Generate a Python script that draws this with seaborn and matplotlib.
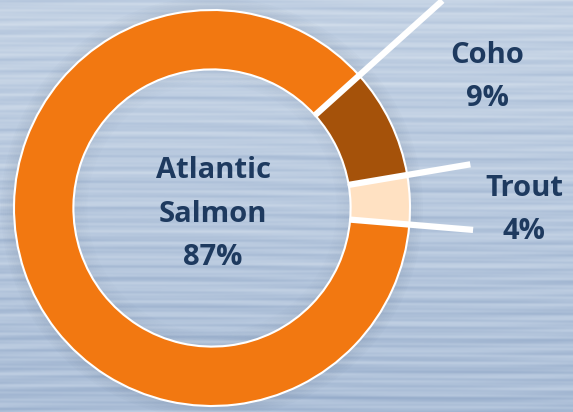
import numpy as np
import matplotlib
matplotlib.use("Agg")
import matplotlib.pyplot as plt
import seaborn as sns
from matplotlib.colors import LinearSegmentedColormap
from matplotlib.patches import Wedge

# ---- data ----
categories = ["Coho", "Trout", "Atlantic\nSalmon"]
shares = [9, 4, 87]
labels = ["Coho\n9%", "Trout\n4%", "Atlantic\nSalmon\n87%"]
colors = ["#A5520A", "#FFE1C2", "#F27811"]

sns.set_theme(style="white")
plt.rcParams['font.family'] = ['Open Sans', 'DejaVu Sans']

W, H = 573, 412
fig = plt.figure(figsize=(W / 100, H / 100), dpi=100)
ax = fig.add_axes([0, 0, 1, 1])

# ---- background water texture (deterministic streaks) ----
yy, xx = np.mgrid[0:H, 0:W].astype(float)
v = (0.40 * np.sin(yy * 0.45 + 2.0 * np.sin(xx * 0.011))
     + 0.30 * np.sin(yy * 0.97 + 1.5 * np.sin(xx * 0.007 + 1.0))
     + 0.25 * np.sin(yy * 0.63 + 3.0 * np.sin(xx * 0.005 + 0.4))
     + 0.15 * np.sin(yy * 1.71 + 1.2 * np.sin(xx * 0.013 + 2.5))
     + 0.20 * np.sin(yy * 0.21 + 0.8 * np.sin(xx * 0.004 + 2.0)))
v = (v - v.min()) / (v.max() - v.min())
v = 0.6 * v + 0.4 * (yy / H)  # darker toward bottom
bg_cmap = LinearSegmentedColormap.from_list("water", ["#d0dcea", "#b7c8de", "#97adcb"])
ax.imshow(v, cmap=bg_cmap, extent=[0, W, 0, H], origin='upper', zorder=0, aspect='auto')

cx, cy, R = 212, 412 - 208, 198
rin_frac = 0.70

# soft shadow ring just outside/inside the donut
for i in range(7):
    ax.add_patch(Wedge((cx, cy), R + 1 + i * 2, 0, 360, width=2, color="#3d4f66",
                       alpha=0.11 - i * 0.015, lw=0, zorder=1))
    ax.add_patch(Wedge((cx, cy), R * rin_frac - i * 2, 0, 360, width=2, color="#3d4f66",
                       alpha=0.06 - i * 0.008, lw=0, zorder=1))

# ---- donut ----
start = 42
wedges, _ = ax.pie(shares, colors=colors, startangle=start, counterclock=False,
                   center=(cx, cy), radius=R, frame=True,
                   wedgeprops=dict(width=R * (1 - rin_frac), edgecolor="white", linewidth=1.5))
for w in wedges:
    w.set_zorder(2)
ax.set_xlim(0, W)
ax.set_ylim(0, H)
ax.set_aspect('equal')
ax.axis('off')

# separator lines at boundaries
cum = np.cumsum([0] + shares)
rin = R * rin_frac
line_out = [310, 262, 262]
for k in range(3):
    ang = np.deg2rad(start - cum[k] * 3.6)
    ro = line_out[k]
    ax.plot([cx + rin * np.cos(ang), cx + ro * np.cos(ang)],
            [cy + rin * np.sin(ang), cy + ro * np.sin(ang)],
            color="white", lw=4.5, solid_capstyle='butt', zorder=3)

# ---- labels ----
txt_kw = dict(color="#1E3A5F", fontsize=21, fontweight="bold", ha="center", va="center",
              linespacing=1.68, zorder=4)
ax.text(487, H - 77, labels[0], **txt_kw)
ax.text(524, H - 210, labels[1], **txt_kw)
ax.text(213, H - 214, labels[2], **txt_kw)

fig.savefig("out.png", dpi=100)
